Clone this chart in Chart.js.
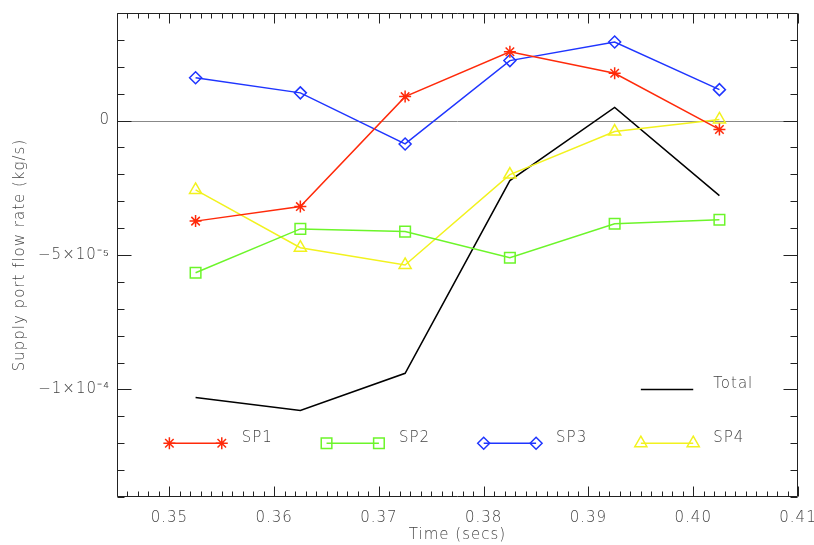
<!DOCTYPE html>
<html>
<head>
<meta charset="utf-8">
<title>Supply port flow rate</title>
<script src="https://cdn.jsdelivr.net/npm/chart.js@4.4.0/dist/chart.umd.min.js"></script>
<style>
  html, body { margin: 0; padding: 0; background: #fff; }
</style>
</head>
<body>
<canvas id="myChart" width="814" height="545"></canvas>
<script>
"use strict";

// sample times (s) and flow rate per supply port (kg/s)
const times = [0.3525, 0.3625, 0.3725, 0.3825, 0.3925, 0.4025];
const sp1 = [-3.74e-5, -3.20e-5, 0.89e-5, 2.56e-5, 1.76e-5, -0.33e-5];
const sp2 = [-5.66e-5, -4.03e-5, -4.13e-5, -5.10e-5, -3.84e-5, -3.69e-5];
const sp3 = [1.59e-5, 1.03e-5, -0.87e-5, 2.23e-5, 2.92e-5, 1.15e-5];
const sp4 = [-2.58e-5, -4.73e-5, -5.37e-5, -2.01e-5, -0.41e-5, 0.04e-5];
const total = [-10.30e-5, -10.78e-5, -9.40e-5, -2.23e-5, 0.49e-5, -2.79e-5];

const xTickValues = [0.35, 0.36, 0.37, 0.38, 0.39, 0.40, 0.41];
const yTickValues = [0, -5e-5, -1e-4];
const yTickLabels = ["0", "−5×10⁻⁵", "−1×10⁻⁴"];

const TEXT = "#444";
const AXIS = "#222";
const FONT_WEIGHT = "200";

function toPoints(ys) {
  return ys.map((y, i) => ({ x: times[i], y: y }));
}

function series(label, ys, color, style, radius) {
  return {
    label: label,
    data: toPoints(ys),
    showLine: true,
    borderColor: color,
    backgroundColor: "rgba(0,0,0,0)",
    borderWidth: 1.5,
    tension: 0,
    pointStyle: style,
    pointRadius: radius,
    pointBorderWidth: 1.5,
    pointBorderColor: color,
    pointBackgroundColor: "rgba(0,0,0,0)",
  };
}

// wide, airy lettering for every label (canvas state is reset on resize, so set it each pass)
const spacing = {
  id: "spacing",
  beforeUpdate(chart) {
    chart.ctx.letterSpacing = "1px";
  },
  beforeDraw(chart) {
    chart.ctx.letterSpacing = "1px";
  },
};

// box with inward major/minor ticks on all four sides, plus the zero line
const frameTicks = {
  id: "frameTicks",
  beforeDatasetsDraw(chart) {
    const { ctx, chartArea } = chart;
    const y0 = Math.round(chart.scales.y.getPixelForValue(0)) + 0.5;
    ctx.save();
    ctx.strokeStyle = "#888";
    ctx.lineWidth = 1;
    ctx.beginPath();
    ctx.moveTo(chartArea.left, y0);
    ctx.lineTo(chartArea.right, y0);
    ctx.stroke();
    ctx.restore();
  },
  afterDatasetsDraw(chart) {
    const { ctx, chartArea } = chart;
    const xs = chart.scales.x;
    const ys = chart.scales.y;
    const l = chartArea.left + 0.5;
    const r = chartArea.right - 0.5;
    const t = chartArea.top + 0.5;
    const b = chartArea.bottom - 0.5;
    ctx.save();
    ctx.strokeStyle = AXIS;
    ctx.lineWidth = 1;
    ctx.beginPath();
    ctx.rect(l, t, r - l, b - t);

    // x: minor every 0.001, major every 0.01
    const nx = Math.round((xs.max - xs.min) / 0.001);
    for (let i = 0; i <= nx; i++) {
      const v = xs.min + i * 0.001;
      const major = Math.abs(v / 0.01 - Math.round(v / 0.01)) < 1e-6;
      const len = major ? 10 : 5;
      const px = Math.round(xs.getPixelForValue(v)) + 0.5;
      ctx.moveTo(px, b);
      ctx.lineTo(px, b - len);
      ctx.moveTo(px, t);
      ctx.lineTo(px, t + len);
    }

    // y: minor every 1e-5, major every 5e-5
    const ny = Math.round((ys.max - ys.min) / 1e-5);
    for (let i = 0; i <= ny; i++) {
      const v = ys.min + i * 1e-5;
      const major = Math.abs(v / 5e-5 - Math.round(v / 5e-5)) < 1e-6;
      const len = major ? 14 : 7;
      const py = Math.round(ys.getPixelForValue(v)) + 0.5;
      ctx.moveTo(l, py);
      ctx.lineTo(l + len, py);
      ctx.moveTo(r, py);
      ctx.lineTo(r - len, py);
    }
    ctx.stroke();
    ctx.restore();
  },
};

// key drawn inside the plot, placed in data coordinates
const keyLegend = {
  id: "keyLegend",
  afterDatasetsDraw(chart, args, opts) {
    const { ctx } = chart;
    const xs = chart.scales.x;
    const ys = chart.scales.y;
    for (const item of opts.items) {
      const ds = chart.data.datasets.find((d) => d.label === item.label);
      const x0 = xs.getPixelForValue(item.x0);
      const x1 = xs.getPixelForValue(item.x1);
      const y = ys.getPixelForValue(item.y);
      ctx.save();
      ctx.strokeStyle = ds.borderColor;
      ctx.fillStyle = "rgba(0,0,0,0)";
      ctx.lineWidth = ds.borderWidth;
      ctx.beginPath();
      ctx.moveTo(x0, y);
      ctx.lineTo(x1, y);
      ctx.stroke();
      if (ds.pointRadius > 0) {
        const pt = {
          pointStyle: ds.pointStyle,
          radius: ds.pointRadius,
          rotation: 0,
          borderWidth: ds.pointBorderWidth,
        };
        ctx.lineWidth = ds.pointBorderWidth;
        Chart.helpers.drawPoint(ctx, pt, x0, y);
        Chart.helpers.drawPoint(ctx, pt, x1, y);
      }
      ctx.fillStyle = TEXT;
      ctx.font = FONT_WEIGHT + " 15px 'DejaVu Sans'";
      ctx.textAlign = "left";
      ctx.textBaseline = "middle";
      ctx.fillText(item.label, x1 + 20, y - 5);
      ctx.restore();
    }
  },
};

Chart.defaults.font.family = "'DejaVu Sans', sans-serif";
Chart.defaults.font.weight = FONT_WEIGHT;
Chart.defaults.color = TEXT;

const ctx = document.getElementById("myChart").getContext("2d");
const myChart = new Chart(ctx, {
  type: "scatter",
  data: {
    datasets: [
      series("SP1", sp1, "#ff2a0a", "star", 6),
      series("SP2", sp2, "#6cf52a", "rect", 7.5),
      series("SP3", sp3, "#1f35ff", "rectRot", 6),
      series("SP4", sp4, "#f2f21e", "triangle", 7),
      series("Total", total, "#000000", "circle", 0),
    ],
  },
  options: {
    responsive: false,
    animation: false,
    devicePixelRatio: 1,
    layout: { padding: { top: 13, right: 16, left: 0, bottom: 0 } },
    plugins: {
      legend: { display: false },
      tooltip: { enabled: false },
      keyLegend: {
        items: [
          { label: "Total", x0: 0.395, x1: 0.400, y: -1.0e-4 },
          { label: "SP1", x0: 0.350, x1: 0.355, y: -1.2e-4 },
          { label: "SP2", x0: 0.365, x1: 0.370, y: -1.2e-4 },
          { label: "SP3", x0: 0.380, x1: 0.385, y: -1.2e-4 },
          { label: "SP4", x0: 0.395, x1: 0.400, y: -1.2e-4 },
        ],
      },
    },
    scales: {
      x: {
        type: "linear",
        min: 0.345,
        max: 0.41,
        grid: { display: false, drawTicks: false },
        border: { display: false },
        afterBuildTicks: (scale) => {
          scale.ticks = xTickValues.map((v) => ({ value: v }));
        },
        afterFit: (scale) => {
          scale.height = 48;
          scale.paddingLeft = 0;
          scale.paddingRight = 0;
        },
        ticks: {
          padding: 12,
          maxRotation: 0,
          autoSkip: false,
          font: { size: 15 },
          callback: (v) => Number(v).toFixed(2),
        },
        title: {
          display: true,
          text: "Time (secs)",
          font: { size: 15 },
          padding: { top: 0, bottom: 1 },
        },
      },
      y: {
        type: "linear",
        min: -1.4e-4,
        max: 4e-5,
        grid: { display: false, drawTicks: false },
        border: { display: false },
        afterBuildTicks: (scale) => {
          scale.ticks = yTickValues.map((v) => ({ value: v }));
        },
        afterFit: (scale) => {
          scale.width = 117;
          scale.paddingTop = 0;
          scale.paddingBottom = 0;
        },
        ticks: {
          padding: 7,
          autoSkip: false,
          font: { size: 15 },
          callback: (v) => yTickLabels[yTickValues.indexOf(v)],
        },
        title: {
          display: true,
          text: "Supply port flow rate (kg/s)",
          font: { size: 15 },
          padding: { top: 11, bottom: 0 },
        },
      },
    },
  },
  plugins: [spacing, frameTicks, keyLegend],
});
</script>
</body>
</html>
